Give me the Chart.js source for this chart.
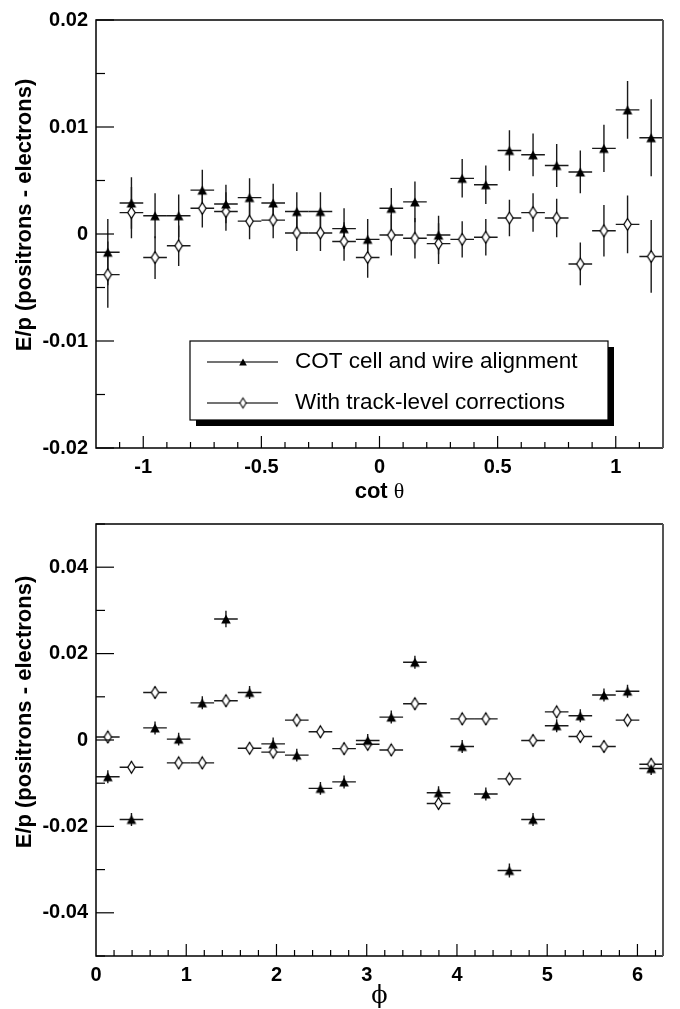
<!DOCTYPE html>
<html>
<head>
<meta charset="utf-8">
<script src="https://cdn.jsdelivr.net/npm/chart.js@4.4.0/dist/chart.umd.min.js"></script>
<style>
  body { margin: 0; background: #fff; }
  canvas { position: absolute; left: 0; }
  #cotChart { top: 0; }
  #phiChart { top: 500px; }
</style>
</head>
<body>
<canvas id="cotChart" width="680" height="500"></canvas>
<canvas id="phiChart" width="680" height="509"></canvas>
<script>
// ---- cot(theta) bins ----
var cotBins = [-1.15, -1.05, -0.95, -0.85, -0.75, -0.65, -0.55, -0.45, -0.35, -0.25, -0.15, -0.05,
               0.05, 0.15, 0.25, 0.35, 0.45, 0.55, 0.65, 0.75, 0.85, 0.95, 1.05, 1.15];
var cotHalfWidth = 0.05;
var cotAlign = [-0.0017, 0.0029, 0.0017, 0.0017, 0.0041, 0.0028, 0.0034, 0.0029, 0.0021, 0.0021, 0.0005, -0.0005,
                0.0024, 0.0030, -0.0001, 0.0052, 0.0046, 0.0078, 0.0074, 0.0064, 0.0058, 0.0080, 0.0116, 0.0090];
var cotAlignErr = [0.0031, 0.0024, 0.0021, 0.0020, 0.0019, 0.0018, 0.0018, 0.0018, 0.0018, 0.0018, 0.0019, 0.0019,
                   0.0019, 0.0019, 0.0018, 0.0018, 0.0018, 0.0019, 0.0020, 0.0020, 0.0020, 0.0022, 0.0027, 0.0036];
var cotCorr = [-0.0038, 0.0020, -0.0022, -0.0011, 0.0024, 0.0021, 0.0012, 0.0013, 0.0001, 0.0001, -0.0007, -0.0022,
               -0.0001, -0.0004, -0.0009, -0.0005, -0.0003, 0.0015, 0.0020, 0.0015, -0.0028, 0.0003, 0.0009, -0.0021];
var cotCorrErr = [0.0031, 0.0024, 0.0020, 0.0019, 0.0018, 0.0018, 0.0017, 0.0017, 0.0017, 0.0017, 0.0018, 0.0019,
                  0.0019, 0.0019, 0.0019, 0.0017, 0.0017, 0.0017, 0.0018, 0.0018, 0.0020, 0.0024, 0.0027, 0.0034];
var cotTicks = [-1, -0.5, 0, 0.5, 1];
var cotYTicks = [-0.02, -0.01, 0, 0.01, 0.02];

// ---- phi bins ----
var phiBins = [0.131, 0.393, 0.654, 0.916, 1.178, 1.440, 1.702, 1.963, 2.225, 2.487, 2.749, 3.011,
               3.272, 3.534, 3.796, 4.058, 4.320, 4.581, 4.843, 5.105, 5.367, 5.629, 5.890, 6.152];
var phiHalfWidth = 0.1309;
var phiAlign = [-0.0085, -0.0184, 0.0028, 0.0002, 0.0086, 0.0280, 0.0110, -0.0009, -0.0035, -0.0112, -0.0097, -0.0001,
                0.0053, 0.0180, -0.0122, -0.0015, -0.0125, -0.0302, -0.0184, 0.0033, 0.0056, 0.0104, 0.0113, -0.0066];
var phiAlignErr = [0.0015, 0.0015, 0.0015, 0.0015, 0.0015, 0.0019, 0.0015, 0.0015, 0.0015, 0.0015, 0.0015, 0.0015,
                   0.0015, 0.0015, 0.0015, 0.0015, 0.0015, 0.0016, 0.0015, 0.0015, 0.0015, 0.0015, 0.0015, 0.0015];
var phiCorr = [0.0007, -0.0063, 0.0110, -0.0053, -0.0053, 0.0091, -0.0019, -0.0028, 0.0046, 0.0019, -0.0020, -0.0010,
               -0.0023, 0.0084, -0.0147, 0.0049, 0.0049, -0.0090, -0.0001, 0.0065, 0.0008, -0.0015, 0.0046, -0.0056];
var phiCorrErr = [0.0014, 0.0014, 0.0014, 0.0014, 0.0014, 0.0014, 0.0014, 0.0014, 0.0014, 0.0014, 0.0014, 0.0014,
                  0.0014, 0.0014, 0.0014, 0.0014, 0.0014, 0.0014, 0.0014, 0.0014, 0.0014, 0.0014, 0.0014, 0.0014];
var phiTicks = [0, 1, 2, 3, 4, 5, 6];
var phiYTicks = [-0.04, -0.02, 0, 0.02, 0.04];

var seriesNames = ['COT cell and wire alignment', 'With track-level corrections'];
var yTitle = 'E/p (positrons - electrons)';

var SANS = '"Liberation Sans", Arial, Helvetica, sans-serif';

// filled up-triangle marker
function triangleMarker(s) {
  var c = document.createElement('canvas');
  c.width = 12; c.height = 12;
  var g = c.getContext('2d');
  g.fillStyle = '#000';
  g.translate(6, 6);
  g.scale(s, s);
  g.beginPath();
  g.moveTo(0, -4.5); g.lineTo(4.8, 4.5); g.lineTo(-4.8, 4.5);
  g.closePath();
  g.fill();
  return c;
}

// open diamond marker
function diamondMarker(s) {
  var c = document.createElement('canvas');
  c.width = 11; c.height = 15;
  var g = c.getContext('2d');
  g.fillStyle = '#fff';
  g.strokeStyle = '#000';
  g.lineWidth = 1.2;
  g.translate(5.5, 7.5);
  g.scale(s, s);
  g.beginPath();
  g.moveTo(0, -5.8); g.lineTo(3.7, 0); g.lineTo(0, 5.8); g.lineTo(-3.7, 0);
  g.closePath();
  g.fill();
  g.stroke();
  return c;
}

var triImg = triangleMarker(1);
var diaImg = diamondMarker(1);
var legendMarkers = [triangleMarker(0.8), diamondMarker(0.85)];

function points(xs, ys) {
  return xs.map(function (x, i) { return { x: x, y: ys[i] }; });
}

// error bars: full bin width horizontally, +-err vertically
var errorBars = {
  id: 'errorBars',
  beforeDatasetsDraw: function (chart) {
    var ctx = chart.ctx, xs = chart.scales.x, ys = chart.scales.y;
    ctx.save();
    ctx.strokeStyle = '#1a1a1a';
    ctx.lineWidth = 1.4;
    chart.data.datasets.forEach(function (ds) {
      ds.data.forEach(function (p, i) {
        var px = xs.getPixelForValue(p.x), py = ys.getPixelForValue(p.y);
        ctx.beginPath();
        ctx.moveTo(xs.getPixelForValue(p.x - ds.halfWidth), py);
        ctx.lineTo(xs.getPixelForValue(p.x + ds.halfWidth), py);
        ctx.moveTo(px, ys.getPixelForValue(p.y - ds.errors[i]));
        ctx.lineTo(px, ys.getPixelForValue(p.y + ds.errors[i]));
        ctx.stroke();
      });
    });
    ctx.restore();
  }
};

// frame, inward ticks and axis titles
var frame = {
  id: 'frame',
  afterDraw: function (chart) {
    var o = chart.options.plugins.frame;
    var ctx = chart.ctx, a = chart.chartArea, xs = chart.scales.x, ys = chart.scales.y;
    ctx.save();
    ctx.strokeStyle = '#000';
    ctx.lineWidth = 1.2;
    var v, px, py;
    // x ticks
    for (v = o.xMinorStart; v <= o.xMax + 1e-9; v += o.xMinor) {
      px = xs.getPixelForValue(v);
      var major = Math.abs(v / o.xMajor - Math.round(v / o.xMajor)) < 1e-6;
      ctx.beginPath();
      ctx.moveTo(px, a.bottom);
      ctx.lineTo(px, a.bottom - (major ? 12 : 6));
      ctx.stroke();
    }
    // y ticks
    for (v = ys.min; v <= ys.max + 1e-9; v += o.yMinor) {
      py = ys.getPixelForValue(v);
      var ymajor = Math.abs(v / o.yMajor - Math.round(v / o.yMajor)) < 1e-6;
      ctx.beginPath();
      ctx.moveTo(a.left, py);
      ctx.lineTo(a.left + (ymajor ? 18 : 9), py);
      ctx.stroke();
    }
    // box
    ctx.lineWidth = 1.5;
    ctx.beginPath();
    ctx.moveTo(a.right, a.top);
    ctx.lineTo(a.left, a.top);
    ctx.lineTo(a.left, a.bottom);
    ctx.lineTo(a.right, a.bottom);
    ctx.stroke();
    ctx.strokeStyle = '#555';
    ctx.lineWidth = 2;
    ctx.beginPath();
    ctx.moveTo(a.right, a.top);
    ctx.lineTo(a.right, a.bottom);
    ctx.stroke();

    // y title
    ctx.fillStyle = '#000';
    ctx.save();
    ctx.translate(25, o.yTitleCenter);
    ctx.rotate(-Math.PI / 2);
    ctx.font = 'bold 22px ' + SANS;
    ctx.textAlign = 'center';
    ctx.textBaseline = 'middle';
    ctx.fillText(yTitle, 0, 0);
    ctx.restore();

    // x title
    ctx.textBaseline = 'middle';
    ctx.textAlign = 'left';
    var cx = (a.left + a.right) / 2;
    var parts = o.xTitle;
    var w = 0;
    parts.forEach(function (p) { ctx.font = p.font; w += ctx.measureText(p.text).width; });
    var x = cx - w / 2;
    parts.forEach(function (p) {
      ctx.font = p.font;
      ctx.fillText(p.text, x, o.xTitleY);
      x += ctx.measureText(p.text).width;
    });
    ctx.restore();
  }
};

// boxed legend with drop shadow
var boxLegend = {
  id: 'boxLegend',
  afterDraw: function (chart) {
    var o = chart.options.plugins.boxLegend;
    if (!o || !o.display) return;
    var ctx = chart.ctx;
    var L = 190, T = 341, R = 608, B = 420;
    ctx.save();
    ctx.fillStyle = '#000';
    ctx.fillRect(L + 6, T + 6, R - L, B - T);
    ctx.fillStyle = '#fff';
    ctx.fillRect(L, T, R - L, B - T);
    ctx.strokeStyle = '#000';
    ctx.lineWidth = 1.2;
    ctx.strokeRect(L, T, R - L, B - T);
    var rows = [362, 403];
    chart.data.datasets.forEach(function (ds, i) {
      var y = rows[i];
      ctx.strokeStyle = '#444';
      ctx.lineWidth = 1.3;
      ctx.beginPath();
      ctx.moveTo(207, y); ctx.lineTo(278, y);
      ctx.stroke();
      var img = legendMarkers[i];
      ctx.drawImage(img, 243 - img.width / 2, y - img.height / 2);
      ctx.fillStyle = '#000';
      ctx.font = '22.5px ' + SANS;
      ctx.textBaseline = 'middle';
      ctx.textAlign = 'left';
      ctx.fillText(ds.label, 295, y);
    });
    ctx.restore();
  }
};

function makeChart(id, cfg) {
  return new Chart(document.getElementById(id), {
    type: 'scatter',
    data: {
      datasets: [
        { label: seriesNames[0], data: points(cfg.bins, cfg.align), errors: cfg.alignErr,
          halfWidth: cfg.halfWidth, pointStyle: triImg, pointRadius: 5 },
        { label: seriesNames[1], data: points(cfg.bins, cfg.corr), errors: cfg.corrErr,
          halfWidth: cfg.halfWidth, pointStyle: diaImg, pointRadius: 5 }
      ]
    },
    options: {
      responsive: false,
      animation: false,
      devicePixelRatio: 1,
      layout: { padding: { left: 0, right: 17, top: cfg.top, bottom: 0 } },
      scales: {
        x: {
          type: 'linear', min: cfg.xMin, max: cfg.xMax,
          afterBuildTicks: function (s) { s.ticks = cfg.xTicks.map(function (v) { return { value: v }; }); },
          afterFit: function (s) { s.height = cfg.xAxisHeight; },
          grid: { display: false, drawTicks: false },
          border: { display: false },
          ticks: {
            padding: 7, color: '#000', maxRotation: 0, autoSkip: false,
            font: { family: SANS, size: 20, weight: 'bold' },
            callback: function (v) { return String(v); }
          }
        },
        y: {
          type: 'linear', min: cfg.yMin, max: cfg.yMax,
          afterBuildTicks: function (s) { s.ticks = cfg.yTicks.map(function (v) { return { value: v }; }); },
          afterFit: function (s) { s.width = 96; },
          grid: { display: false, drawTicks: false },
          border: { display: false },
          ticks: {
            padding: 8, color: '#000', autoSkip: false,
            font: { family: SANS, size: 20, weight: 'bold' },
            callback: function (v) { return String(v); }
          }
        }
      },
      plugins: {
        legend: { display: false },
        tooltip: { enabled: false },
        frame: {
          xMinorStart: cfg.xMinorStart, xMax: cfg.xMax, xMinor: cfg.xMinor, xMajor: cfg.xMajor,
          yMinor: cfg.yMinor, yMajor: cfg.yMajor,
          yTitleCenter: cfg.yTitleCenter, xTitle: cfg.xTitle, xTitleY: cfg.xTitleY
        },
        boxLegend: { display: cfg.legend }
      }
    },
    plugins: [errorBars, frame, boxLegend]
  });
}

makeChart('cotChart', {
  bins: cotBins, align: cotAlign, alignErr: cotAlignErr, corr: cotCorr, corrErr: cotCorrErr,
  halfWidth: cotHalfWidth,
  xMin: -1.2, xMax: 1.2, xTicks: cotTicks, xMinorStart: -1.1, xMinor: 0.1, xMajor: 0.5,
  yMin: -0.02, yMax: 0.02, yTicks: cotYTicks, yMinor: 0.005, yMajor: 0.01,
  top: 16, xAxisHeight: 52, yTitleCenter: 215, legend: true,
  xTitle: [{ text: 'cot ', font: 'bold 22px ' + SANS }, { text: '\u03B8', font: '22px "Liberation Serif", serif' }],
  xTitleY: 492
});

makeChart('phiChart', {
  bins: phiBins, align: phiAlign, alignErr: phiAlignErr, corr: phiCorr, corrErr: phiCorrErr,
  halfWidth: phiHalfWidth,
  xMin: 0, xMax: 6.2832, xTicks: phiTicks, xMinorStart: 0.2, xMinor: 0.2, xMajor: 1,
  yMin: -0.05, yMax: 0.05, yTicks: phiYTicks, yMinor: 0.01, yMajor: 0.02,
  top: 24, xAxisHeight: 53, yTitleCenter: 212, legend: false,
  xTitle: [{ text: '\u03D5', font: '24px "DejaVu Serif", serif' }],
  xTitleY: 497
});
</script>
</body>
</html>
